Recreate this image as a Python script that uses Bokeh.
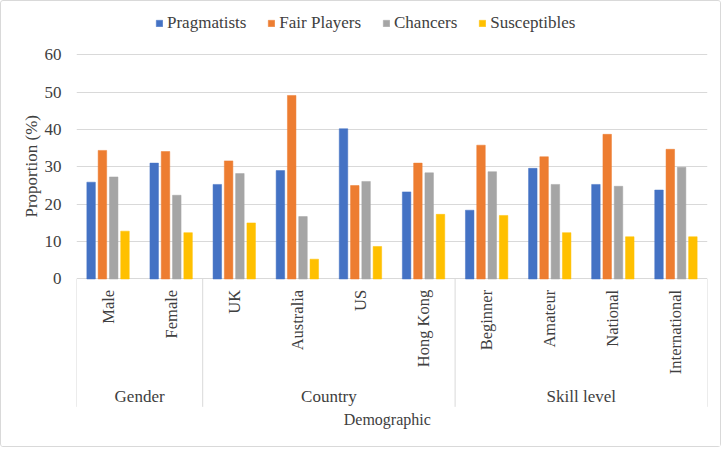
from math import pi
from bokeh.plotting import figure
from bokeh.models import ColumnDataSource, FixedTicker, Legend, LegendItem, Range1d, Title
from bokeh.transform import dodge
from bokeh.core.properties import value
from bokeh.embed import file_html
from bokeh.resources import INLINE

categories = ["Male", "Female", "UK", "Australia", "US", "Hong Kong",
              "Beginner", "Amateur", "National", "International"]
groups = ["Gender", "Gender", "Country", "Country", "Country", "Country",
          "Skill level", "Skill level", "Skill level", "Skill level"]
series_names = ["Pragmatists", "Fair Players", "Chancers", "Susceptibles"]
pragmatists = [25.9, 31.0, 25.3, 29.0, 40.2, 23.3, 18.4, 29.6, 25.3, 23.8]
fair_players = [34.4, 34.1, 31.6, 49.1, 25.0, 31.0, 35.8, 32.7, 38.7, 34.7]
chancers = [27.3, 22.4, 28.2, 16.7, 26.1, 28.4, 28.7, 25.3, 24.8, 29.9]
susceptibles = [12.8, 12.4, 15.0, 5.3, 8.7, 17.3, 17.0, 12.4, 11.3, 11.3]
y_ticks = [0, 10, 20, 30, 40, 50, 60]
y_title = "Proportion (%)"
x_title = "Demographic"

colors = ["#4472C4", "#ED7D31", "#A5A5A5", "#FFC000"]
FONT_NAME = "'Liberation Serif'"
FONT = value(FONT_NAME)
TXT = "#404040"
GRID = "#d9d9d9"

n = len(categories)
centers = [i + 0.5 for i in range(n)]
src = ColumnDataSource(dict(x=centers, cat=categories,
                            s0=pragmatists, s1=fair_players, s2=chancers, s3=susceptibles))

p = figure(width=721, height=447, output_backend="svg", toolbar_location=None,
           x_range=Range1d(0, n), y_range=Range1d(-42.94, 71.83),
           x_axis_location=None, min_border_left=75, min_border_right=15,
           min_border_top=9, min_border_bottom=9)
p.outline_line_color = None
p.background_fill_color = "white"
p.border_fill_color = "white"
p.styles = {"border": "1px solid #d9d9d9", "border-radius": "3px"}

step = 0.179
width = 0.135
items = []
for k, name in enumerate(series_names):
    r = p.vbar(x=dodge("x", (k - 1.5) * step, range=p.x_range), top="s%d" % k,
               width=width, bottom=0, source=src, fill_color=colors[k],
               line_color=colors[k], line_width=0.5)
    items.append(LegendItem(label=name, renderers=[r]))

# y axis
p.yaxis.ticker = FixedTicker(ticks=y_ticks)
p.yaxis.axis_line_color = None
p.yaxis.major_tick_line_color = None
p.yaxis.minor_tick_line_color = None
p.yaxis.major_tick_out = 0
p.yaxis.major_tick_in = 0
p.yaxis.minor_tick_out = 0
p.yaxis.major_label_standoff = 15
p.yaxis.major_label_text_font = FONT_NAME
p.yaxis.major_label_text_font_size = "17px"
p.yaxis.major_label_text_color = TXT
p.ygrid.ticker = FixedTicker(ticks=y_ticks)
p.ygrid.grid_line_color = GRID
p.xgrid.grid_line_color = None

# y title, placed beside the 0-60 value range
p.add_layout(Title(text=y_title, align="left", offset=222, standoff=0,
                   vertical_align="middle", text_font=FONT_NAME,
                   text_font_size="17px", text_font_style="normal",
                   text_color=TXT), "left")

# category labels (rotated)
p.text(x="x", y=-2.9, text="cat", source=src, angle=pi / 2, text_align="right",
       text_baseline="middle", text_font=FONT, text_font_size="16.5px", text_color=TXT)

# group boundaries and labels
bounds = [0]
gnames = []
gcenters = []
start = 0
for i in range(1, n + 1):
    if i == n or groups[i] != groups[start]:
        bounds.append(i)
        gnames.append(groups[start])
        gcenters.append((start + i) / 2)
        start = i
p.segment(x0=bounds, y0=[0] * len(bounds), x1=bounds, y1=[-34.2] * len(bounds),
          line_color=GRID, line_width=1)
p.text(x=gcenters, y=[-31.4] * len(gcenters), text=gnames, text_align="center",
       text_baseline="middle", text_font=FONT, text_font_size="17px", text_color=TXT)
p.text(x=[n / 2 * 0.985], y=[-37.6], text=[x_title], text_align="center",
       text_baseline="middle", text_font=FONT, text_font_size="16px", text_color=TXT)

legend = Legend(items=items, orientation="horizontal", location=(79, 406),
                glyph_width=8, glyph_height=8, label_standoff=4, spacing=21,
                padding=0, margin=0, border_line_color=None,
                background_fill_alpha=0,
                label_text_font=FONT_NAME, label_text_font_size="17px",
                label_text_color=TXT, label_height=18)
p.add_layout(legend, "center")

open("out.html", "w").write(file_html(p, INLINE))
